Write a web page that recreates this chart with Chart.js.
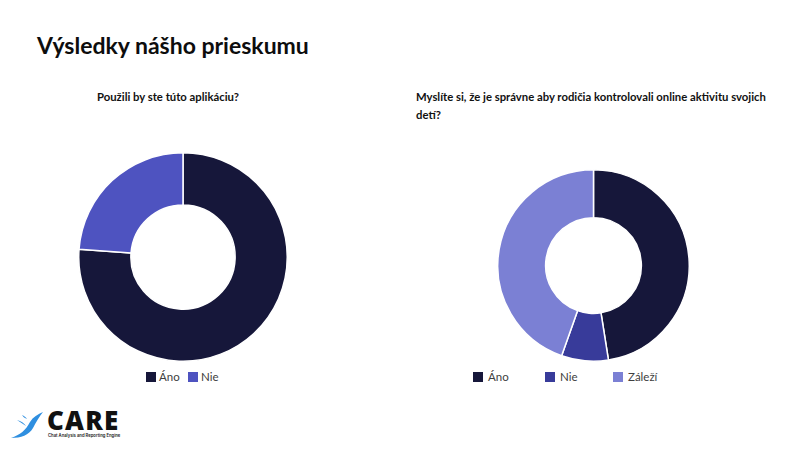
<!DOCTYPE html>
<html>
<head>
<meta charset="utf-8">
<script src="https://cdn.jsdelivr.net/npm/chart.js@4/dist/chart.umd.min.js"></script>
<style>
  html, body { margin: 0; padding: 0; background: #fff; }
  body { width: 806px; height: 453px; position: relative; overflow: hidden; font-family: Lato, "Open Sans", sans-serif; color: #111; }
  .abs { position: absolute; }
  #title { left: 37px; top: 31px; font-size: 23px; font-weight: 700; line-height: 28px; color: #0d0d0d; white-space: nowrap; }
  .sub { font-size: 11.3px; font-weight: 700; line-height: 18px; color: #111; white-space: nowrap; }
  .legend { font-size: 11.5px; color: #404040; line-height: 14px; height: 14px; }
  .legend span.item { position: absolute; top: 0; white-space: nowrap; }
  .legend i { display: inline-block; width: 10px; height: 10px; vertical-align: -1px; }
  canvas { position: absolute; }
</style>
</head>
<body>
<div id="title" class="abs">Výsledky nášho prieskumu</div>
<div id="sub1" class="abs sub" style="left:97px; top:88px;">Použili by ste túto aplikáciu?</div>
<div id="sub2" class="abs sub" style="left:416px; top:88px;">Myslíte si, že je správne aby rodičia kontrolovali online aktivitu svojich<br>detí?</div>

<canvas id="c1" width="210" height="210" style="left:78px; top:152px; width:210px; height:210px;"></canvas>
<canvas id="c2" width="193" height="193" style="left:497px; top:169px; width:193px; height:193px;"></canvas>

<div id="leg1" class="abs legend" style="left:0; top:370px; width:806px;"></div>
<div id="leg2" class="abs legend" style="left:0; top:370px; width:806px;"></div>

<svg class="abs" style="left:8px; top:408px;" width="40" height="34" viewBox="0 0 40 34">
  <path d="M3 30 C 12 27, 18 22, 22 14 C 25 9, 30 6, 35 4 C 31 9, 28 14, 25 20 C 21 27, 13 30, 3 30 Z" fill="#2f8fe0"/>
  <path d="M9 12 C 13 13, 16 15, 18 18 C 15 16, 12 14, 9 12 Z" fill="#2f8fe0"/>
  <path d="M14 7 C 16 8, 18 9, 19 11 C 17 10, 15 9, 14 7 Z" fill="#2f8fe0"/>
</svg>
<div class="abs" style="left:47px; top:405px; font-family: 'Open Sans', Inter, sans-serif; font-weight:800; font-size:26px; line-height:30px; letter-spacing:1.2px; color:#111;">CARE</div>
<div class="abs" style="left:48px; top:433px; font-family: Inter, sans-serif; font-weight:600; font-size:4.2px; line-height:6px; color:#222; white-space:nowrap;">Chat Analysis and Reporting Engine</div>

<script>
// ---- data ----
const labels1 = ["Áno", "Nie"];
const values1 = [76.2, 23.8];
const colors1 = ["#16173a", "#4e53c0"];

const labels2 = ["Áno", "Nie", "Záleží"];
const values2 = [47.5, 7.9, 44.6];
const colors2 = ["#16173a", "#383b9a", "#7b80d4"];

// legend positions (left edge of each swatch) and swatch-text gaps
const legendX1 = [146, 188];
const legendX2 = [473, 545, 613];

function makeDonut(id, labels, values, colors) {
  return new Chart(document.getElementById(id), {
    type: "doughnut",
    data: {
      labels: labels,
      datasets: [{
        data: values,
        backgroundColor: colors,
        borderColor: "#ffffff",
        borderWidth: 1.5
      }]
    },
    options: {
      responsive: false,
      devicePixelRatio: 1,
      animation: false,
      cutout: "50%",
      layout: { padding: 0 },
      plugins: { legend: { display: false }, tooltip: { enabled: false } }
    }
  });
}

function buildLegend(id, labels, colors, xs, gap) {
  const el = document.getElementById(id);
  labels.forEach((lab, i) => {
    const s = document.createElement("span");
    s.className = "item";
    s.style.left = xs[i] + "px";
    const sw = document.createElement("i");
    sw.style.background = colors[i];
    sw.style.marginRight = gap + "px";
    s.appendChild(sw);
    s.appendChild(document.createTextNode(lab));
    el.appendChild(s);
  });
}

makeDonut("c1", labels1, values1, colors1);
makeDonut("c2", labels2, values2, colors2);
buildLegend("leg1", labels1, colors1, legendX1, 3);
buildLegend("leg2", labels2, colors2, legendX2, 5);
</script>
</body>
</html>
